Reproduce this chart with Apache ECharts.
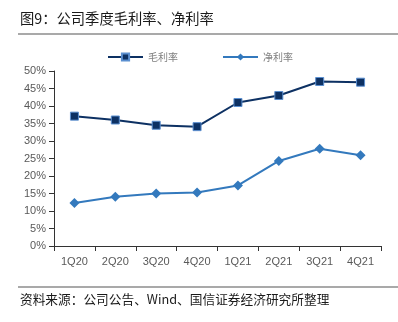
<!DOCTYPE html>
<html>
<head>
<meta charset="utf-8">
<script src="https://cdn.jsdelivr.net/npm/echarts@6/dist/echarts.min.js"></script>
<style>
  html, body { margin: 0; padding: 0; background: #fff; }
  #chart { width: 398px; height: 322px; }
</style>
</head>
<body>
<div id="chart"></div>
<script>
// Quarterly margins (%)
const quarters = ['1Q20', '2Q20', '3Q20', '4Q20', '1Q21', '2Q21', '3Q21', '4Q21'];
const grossMargin = [37.1, 36.0, 34.5, 34.1, 41.0, 43.0, 47.0, 46.8];
const netMargin = [12.3, 14.1, 15.0, 15.3, 17.3, 24.3, 27.8, 25.9];
const seriesNames = ['毛利率', '净利率'];
const titleText = '图9：公司季度毛利率、净利率';
const sourceText = '资料来源：公司公告、Wind、国信证券经济研究所整理';

const cjkFont = '"Noto Sans CJK SC", "Noto Sans", sans-serif';
const latinFont = '"Liberation Sans", Arial, sans-serif';

const chart = echarts.init(document.getElementById('chart'), null, { renderer: 'canvas' });

chart.setOption({
  animation: false,
  backgroundColor: '#ffffff',
  graphic: [
    {
      type: 'text', left: 20, top: 11,
      style: { text: titleText, font: '14.3px ' + cjkFont, fill: '#1a1a1a' }
    },
    {
      type: 'line', shape: { x1: 18, y1: 34, x2: 398, y2: 34 },
      style: { stroke: '#8c8c8c', lineWidth: 1.5 }
    },
    {
      type: 'line', shape: { x1: 18, y1: 287, x2: 398, y2: 287 },
      style: { stroke: '#8c8c8c', lineWidth: 1.5 }
    },
    {
      type: 'text', left: 20, top: 293,
      style: { text: sourceText, font: '12.7px ' + cjkFont, fill: '#1a1a1a' }
    }
  ],
  legend: {
    left: 107, top: 52, padding: 0,
    itemWidth: 35, itemHeight: 9, itemGap: 44,
    textStyle: { fontFamily: cjkFont, fontSize: 10, color: '#808080', padding: [0, 0, 0, 0] },
    data: seriesNames
  },
  grid: { left: 54, right: 17, top: 71, bottom: 76, containLabel: false },
  xAxis: {
    type: 'category',
    data: quarters,
    boundaryGap: true,
    axisLine: { lineStyle: { color: '#333333', width: 1 } },
    axisTick: { show: true, interval: 0, length: 5, inside: false, lineStyle: { color: '#333333' } },
    axisLabel: { color: '#595959', fontFamily: latinFont, fontSize: 11, margin: 10, interval: 0 },
    splitLine: { show: false }
  },
  yAxis: {
    type: 'value',
    min: 0, max: 50, interval: 5,
    axisLine: { show: true, lineStyle: { color: '#333333', width: 1 } },
    axisTick: { show: true, length: 5, lineStyle: { color: '#333333' } },
    axisLabel: { color: '#595959', fontFamily: latinFont, fontSize: 11, margin: 8, formatter: '{value}%' },
    splitLine: { show: false }
  },
  series: [
    {
      name: seriesNames[0],
      type: 'line',
      data: grossMargin,
      symbol: 'rect',
      symbolSize: 8,
      lineStyle: { color: '#0d3163', width: 2 },
      itemStyle: { color: '#0d3163', borderColor: '#5b8fd0', borderWidth: 1 }
    },
    {
      name: seriesNames[1],
      type: 'line',
      data: netMargin,
      symbol: 'diamond',
      symbolSize: 10,
      lineStyle: { color: '#3379bd', width: 2 },
      itemStyle: { color: '#3379bd', borderColor: '#3379bd', borderWidth: 0 }
    }
  ]
});
</script>
</body>
</html>
